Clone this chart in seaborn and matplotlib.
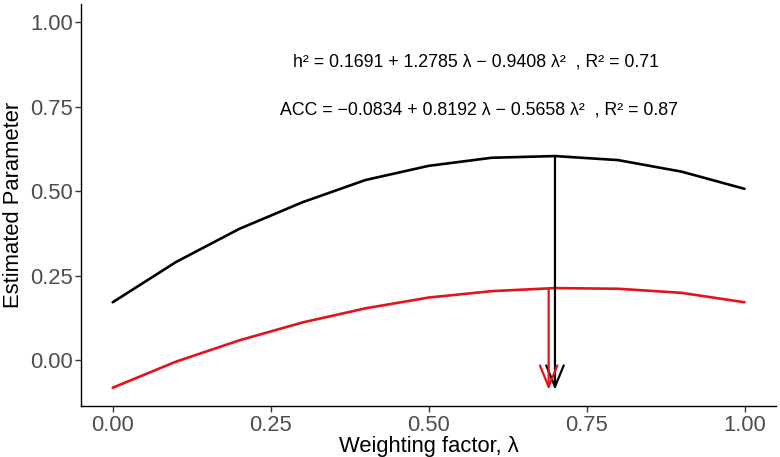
import pandas as pd
import numpy as np
import seaborn as sns
import matplotlib.pyplot as plt

# values
lam = [0.0, 0.1, 0.2, 0.3, 0.4, 0.5, 0.6, 0.7, 0.8, 0.9, 1.0]
h2 = [0.171, 0.290, 0.388, 0.467, 0.533, 0.575, 0.599, 0.604, 0.592, 0.558, 0.507]
acc = [-0.082, -0.005, 0.058, 0.111, 0.153, 0.185, 0.204, 0.213, 0.211, 0.199, 0.171]

arrow_x = [0.700, 0.690]
arrow_from = [0.604, 0.213]
arrow_to = -0.088

eq_h2 = 'h² = 0.1691 + 1.2785 λ − 0.9408 λ²  , R² = 0.71'
eq_acc = 'ACC = −0.0834 + 0.8192 λ − 0.5658 λ²  , R² = 0.87'

df = pd.DataFrame({'lambda': lam * 2,
                   'value': h2 + acc,
                   'param': ['h2'] * len(lam) + ['ACC'] * len(lam)})

sns.set_style('white')
plt.rcParams['font.family'] = ['Liberation Sans', 'DejaVu Sans']

fig, ax = plt.subplots(figsize=(7.8, 4.57), dpi=100)
fig.subplots_adjust(left=0.104, right=0.995, top=0.991, bottom=0.111)

colors = {'h2': 'black', 'ACC': '#e3121b'}
sns.lineplot(data=df, x='lambda', y='value', hue='param', palette=colors,
             linewidth=1.9, legend=False, ax=ax)

# arrows down from the peak of each curve
for x0, y0, c in zip(arrow_x, arrow_from, ['black', colors['ACC']]):
    ax.annotate('', xy=(x0, arrow_to), xytext=(x0, y0),
                arrowprops=dict(arrowstyle='->,head_length=1.1,head_width=0.45',
                                color=c, lw=1.6, shrinkA=0, shrinkB=0,
                                mutation_scale=14))

ax.text(0.575, 0.884, eq_h2, ha='center', va='center', fontsize=12.8, color='black')
ax.text(0.58, 0.741, eq_acc, ha='center', va='center', fontsize=12.8, color='black')

ax.set_xlim(-0.05, 1.05)
ax.set_ylim(-0.137, 1.054)
ax.set_xticks([0, 0.25, 0.5, 0.75, 1.0])
ax.set_xticklabels(['0.00', '0.25', '0.50', '0.75', '1.00'])
ax.set_yticks([0, 0.25, 0.5, 0.75, 1.0])
ax.set_yticklabels(['0.00', '0.25', '0.50', '0.75', '1.00'])
ax.tick_params(axis='both', labelsize=15.8, labelcolor='#4d4d4d', color='#333333',
               length=4, width=1, direction='out', bottom=True, left=True, pad=2)

ax.set_xlabel('Weighting factor, λ', fontsize=15.8, labelpad=0, color='black')
ax.set_ylabel('Estimated Parameter', fontsize=15.8, labelpad=4, color='black')

sns.despine(ax=ax)
for s in ['left', 'bottom']:
    ax.spines[s].set_color('black')
    ax.spines[s].set_linewidth(1.0)

plt.savefig('out.png', dpi=100)
